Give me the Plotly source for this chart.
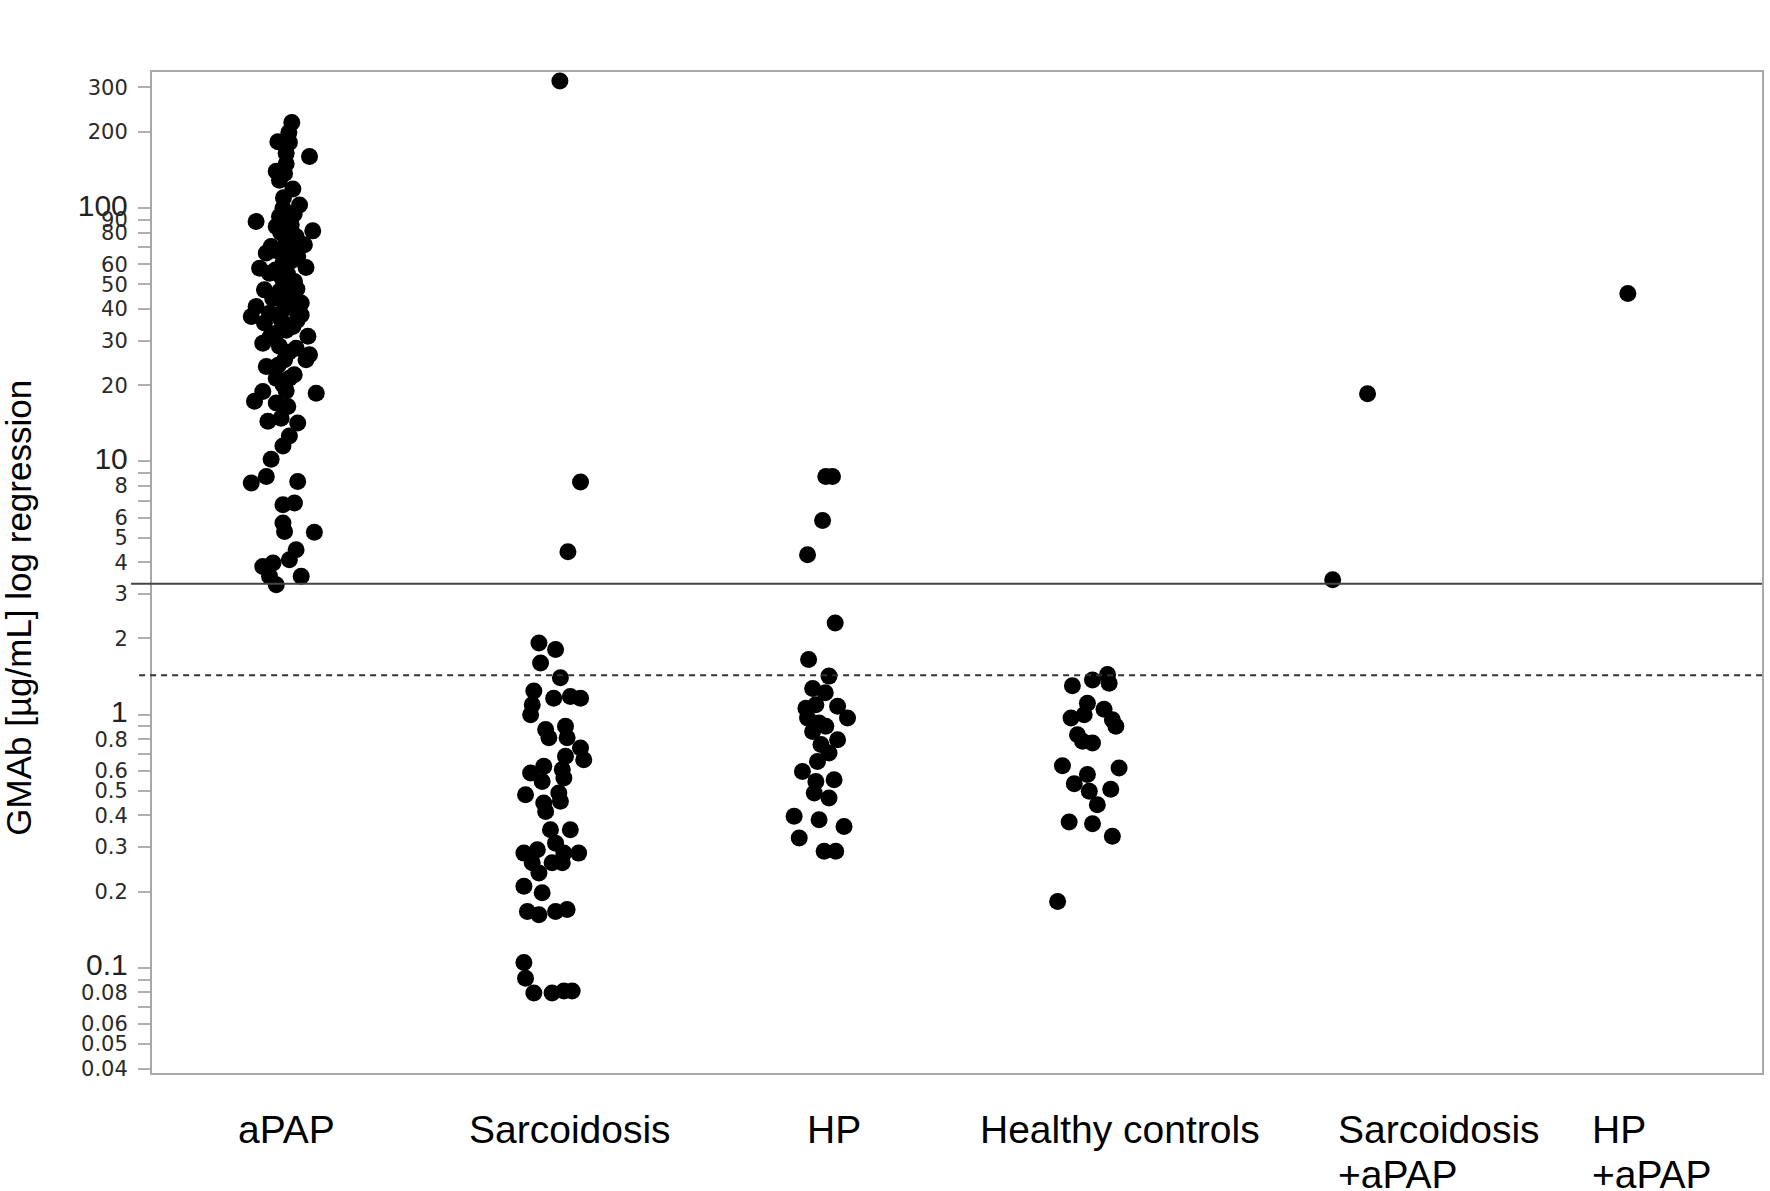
import plotly.graph_objects as go

# ---------------- data ----------------
categories = ["aPAP", "Sarcoidosis", "HP", "Healthy controls", "Sarcoidosis<br>+aPAP", "HP<br>+aPAP"]

apap_values = [218, 199, 183, 182, 165, 160, 140, 137, 129, 119,
               103, 100, 92.7, 88.6, 84.7, 86, 81.4, 77.3, 75, 70.6,
               71.7, 66.5, 66.5, 64.4, 60.7, 58, 58.3, 55.4, 53.8, 51.4,
               47.6, 46.9, 45.5, 42.2, 40.9, 37.4, 38.5, 40.3, 37.9, 35.2,
               36.3, 34.1, 32.1, 31.2, 29.3, 28.5, 28, 26.4, 25.2, 25.2,
               23.7, 21.3, 21.3, 18.9, 20.1, 18.6, 17.3, 17.0, 16.5, 14.4,
               14.8, 14.2, 12.6, 11.5, 10.2, 8.73, 8.22, 8.34, 6.75, 6.85,
               5.71, 5.29, 5.25, 4.48, 4.09, 3.85, 3.97, 3.52, 3.26, 3.52,
               95, 80, 72, 68, 62, 57, 55, 50, 48, 44,
               43, 40, 38, 36, 33, 31, 27, 24, 22, 19, 110, 150]
apap_jitter = [0.021, 0.01, -0.031, 0.012, 0, 0.087, -0.037, -0.006, -0.025, 0.025,
               0.05, -0.012, -0.025, -0.112, -0.037, 0.019, 0.099, 0.037, 0, -0.056,
               0.068, 0.006, -0.074, 0.043, -0.012, -0.099, 0.074, -0.062, -0.019, 0.031,
               -0.081, -0.025, 0.025, 0.056, -0.112, -0.13, -0.062, -0.006, 0.056, -0.081,
               -0.019, 0.025, -0.037, 0.081, -0.087, -0.025, 0.037, 0.087, -0.006, 0.074,
               -0.074, -0.037, 0.012, -0.087, -0.012, 0.112, -0.118, -0.037, 0.006, -0.068,
               -0.019, 0.043, 0.012, -0.012, -0.056, -0.074, -0.13, 0.043, -0.012, 0.031,
               -0.012, -0.006, 0.105, 0.037, 0.012, -0.087, -0.049, -0.062, -0.037, 0.056,
               0.03, -0.02, 0.015, -0.035, 0.02, -0.04, 0.005, -0.01, 0.04, -0.05,
               0.0, 0.03, -0.03, 0.04, 0.0, -0.06, 0.01, -0.03, 0.03, 0.0, -0.01, 0.0]

sarc_values = [318, 8.3, 4.4,
               1.92, 1.81, 1.60, 1.40, 1.24, 1.16, 1.18, 1.16, 1.0, 1.095,
               0.873, 0.90, 0.81, 0.81, 0.739, 0.664, 0.685, 0.589, 0.625, 0.607,
               0.562, 0.545, 0.483, 0.491, 0.448, 0.415, 0.455, 0.351, 0.351, 0.284,
               0.293, 0.311, 0.284, 0.284, 0.26, 0.237, 0.26, 0.26, 0.21, 0.198,
               0.167, 0.162, 0.167, 0.17, 0.105, 0.091, 0.0796, 0.0796, 0.081, 0.081]
sarc_jitter = [0.02, 0.097, 0.05,
               -0.058, 0.004, -0.052, 0.022, -0.077, -0.003, 0.059, 0.097, -0.089, -0.083,
               -0.033, 0.041, -0.021, 0.047, 0.097, 0.109, 0.041, -0.089, -0.04, 0.029,
               0.035, -0.046, -0.108, 0.016, -0.04, -0.033, 0.022, -0.015, 0.059, -0.114,
               -0.064, 0.004, 0.035, 0.09, -0.083, -0.058, -0.009, 0.029, -0.114, -0.046,
               -0.101, -0.058, 0.004, 0.047, -0.114, -0.108, -0.077, -0.009, 0.035, 0.066]

hp_values = [8.73, 8.73, 5.85, 4.28, 2.30, 1.65, 1.42, 1.27, 1.22, 1.06,
             1.095, 1.08, 0.97, 0.97, 0.927, 0.859, 0.90, 0.797, 0.762, 0.706,
             0.654, 0.597, 0.545, 0.554, 0.491, 0.469, 0.397, 0.385, 0.362, 0.326,
             0.289, 0.289]
hp_jitter = [0.011, 0.036, -0.001, -0.057, 0.046, -0.053, 0.023, -0.038, 0.009, -0.063,
             -0.026, 0.055, 0.092, -0.057, -0.014, -0.038, 0.011, 0.055, -0.007, 0.023,
             -0.02, -0.076, -0.026, 0.042, -0.032, 0.023, -0.107, -0.014, 0.079, -0.088,
             0.005, 0.048]

healthy_values = [1.30, 1.37, 1.44, 1.33, 1.11, 1.05, 0.97, 1.0, 0.955, 0.90,
                  0.834, 0.785, 0.773, 0.629, 0.616, 0.58, 0.534, 0.498, 0.508, 0.441,
                  0.377, 0.371, 0.331, 0.183]
healthy_jitter = [-0.07, 0.005, 0.061, 0.067, -0.014, 0.048, -0.075, -0.026, 0.079, 0.092,
                  -0.051, -0.032, 0.005, -0.107, 0.104, -0.014, -0.063, -0.007, 0.073, 0.023,
                  -0.082, 0.005, 0.079, -0.125]

sarc_apap_values = [3.41, 18.5]
sarc_apap_jitter = [-0.10, 0.03]

hp_apap_values = [46.1]
hp_apap_jitter = [0.0]

cutoff_solid = 3.29
cutoff_dashed = 1.43

tick_values = [300, 200, 100, 90, 80, 70, 60, 50, 40, 30, 20,
               10, 9, 8, 7, 6, 5, 4, 3, 2,
               1, 0.9, 0.8, 0.7, 0.6, 0.5, 0.4, 0.3, 0.2,
               0.1, 0.09, 0.08, 0.07, 0.06, 0.05, 0.04]
tick_labels = ["300", "200", "100", "90", "80", "", "60", "50", "40", "30", "20",
               "10", "", "8", "", "6", "5", "4", "3", "2",
               "1", "", "0.8", "", "0.6", "0.5", "0.4", "0.3", "0.2",
               "0.1", "", "0.08", "", "0.06", "0.05", "0.04"]
major_labels = ["100", "10", "1", "0.1"]

y_title = "GMAb [µg/mL] log regression"

# ---------------- figure ----------------
groups = [
    (apap_values, apap_jitter),
    (sarc_values, sarc_jitter),
    (hp_values, hp_jitter),
    (healthy_values, healthy_jitter),
    (sarc_apap_values, sarc_apap_jitter),
    (hp_apap_values, hp_apap_jitter),
]

fig = go.Figure()
for i, (vals, jit) in enumerate(groups):
    fig.add_trace(go.Scatter(
        x=[i + j for j in jit], y=vals, mode="markers",
        marker=dict(color="black", size=17, line=dict(width=0)),
        showlegend=False, hoverinfo="y"))

ticktext = []
for t in tick_labels:
    if t in major_labels:
        ticktext.append('<span style="font-size:30px;font-family:Liberation Sans;fill:#222">'
                        + t + '</span>')
    else:
        ticktext.append(t)

W, H = 1770, 1191
L, R, T, B = 152, 6, 72, 118
plot_h = H - T - B

fig.update_layout(
    width=W, height=H,
    margin=dict(l=L, r=R, t=T, b=B, pad=0),
    paper_bgcolor="white", plot_bgcolor="white",
    xaxis=dict(range=[-0.5, 5.5], showgrid=False, zeroline=False,
               showticklabels=False, ticks="",
               showline=True, mirror=True, linecolor="#a8a8a8", linewidth=2),
    yaxis=dict(type="log", range=[-1.415, 2.538], showgrid=False, zeroline=False,
               tickmode="array", tickvals=tick_values, ticktext=ticktext,
               ticks="outside", ticklen=12, tickwidth=2, tickcolor="#b0b0b0",
               ticklabelstandoff=6,
               tickfont=dict(family="DejaVu Sans", size=21, color="#2a2a2a"),
               showline=True, mirror=True, linecolor="#a8a8a8", linewidth=2),
    font=dict(family="Liberation Sans, Arial, sans-serif", color="black"),
)

# reference lines
fig.add_shape(type="line", xref="paper", yref="y", x0=-0.013, x1=1,
              y0=cutoff_solid, y1=cutoff_solid, line=dict(color="#444444", width=2))
fig.add_shape(type="line", xref="paper", yref="y", x0=-0.008, x1=1,
              y0=cutoff_dashed, y1=cutoff_dashed,
              line=dict(color="#333333", width=2, dash="6px,5px"))

# category labels (each line placed separately; 45 px line pitch)
label_x = [0.0, 1.059, 2.042, 3.106, 3.914, 4.859]
label_anchor = ["center", "center", "center", "center", "left", "left"]
line1_center_px = 1129 - T          # vertical centre of first line, px below plot top
line_pitch = 45
for cat, lx, xa in zip(categories, label_x, label_anchor):
    for k, part in enumerate(cat.split("<br>")):
        ypx = line1_center_px + k * line_pitch
        fig.add_annotation(text=part, x=lx, xref="x", y=1 - ypx / plot_h, yref="paper",
                           xanchor=xa, yanchor="middle", showarrow=False,
                           font=dict(family="Liberation Sans, Arial", size=39, color="black"))

# y-axis title
fig.add_annotation(text=y_title, x=-0.0831, xref="paper", y=0.465, yref="paper",
                   xanchor="center", yanchor="middle", textangle=-90, showarrow=False,
                   font=dict(family="Liberation Sans, Arial", size=35, color="black"))

fig.write_html("out.html", config={"displayModeBar": False},
               post_script="document.body.style.margin='0';document.body.style.overflow='hidden';")
